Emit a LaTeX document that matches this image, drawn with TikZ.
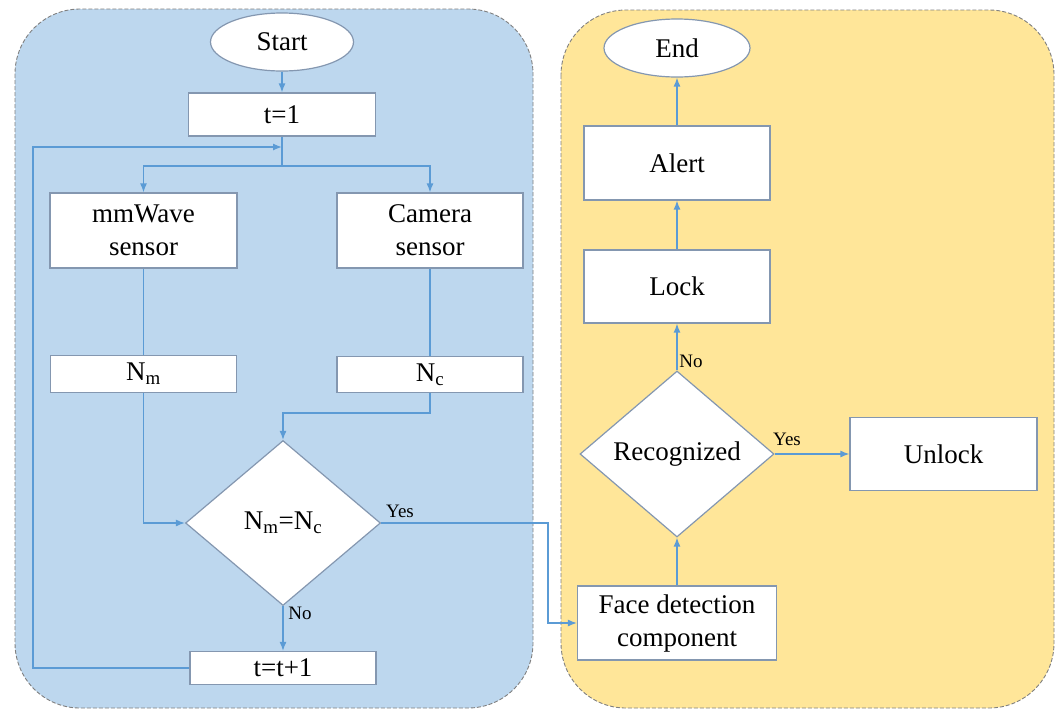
\documentclass[tikz,border=0pt]{standalone}
\usepackage{fontspec}
\setmainfont{Liberation Serif}
\newfontfamily\diagfont{Liberation Serif}
\usetikzlibrary{shapes.geometric,arrows.meta}
\definecolor{panelblue}{RGB}{189,215,238}
\definecolor{panelyellow}{RGB}{255,230,153}
\definecolor{arrowblue}{RGB}{91,155,213}
\definecolor{nodeborder}{RGB}{132,151,176}
\definecolor{panelborder}{RGB}{128,128,128}
\tikzset{
  panel/.style={draw=panelborder, line width=0.9pt, dash pattern=on 4pt off 2pt, rounded corners=65pt},
  bigtext/.style={font=\diagfont\fontsize{27}{33}\selectfont},
  stepbox/.style={draw=nodeborder, fill=white, line width=1.2pt, rectangle, inner sep=0pt, align=center, bigtext},
  term/.style={draw=nodeborder, fill=white, line width=1.2pt, ellipse, inner sep=0pt, bigtext},
  decide/.style={draw=nodeborder, fill=white, line width=1.2pt, diamond, inner sep=0pt, bigtext},
  conn/.style={draw=arrowblue, line width=1.3pt},
  arr/.style={conn, -{Latex[length=9pt,width=7pt]}},
  lbl/.style={font=\diagfont\fontsize{19}{22}\selectfont, inner sep=0pt}
}
\begin{document}
\begin{tikzpicture}[x=1pt,y=-1pt]
\useasboundingbox (0,0) rectangle (1059,710);
% panels
\path[panel, fill=panelblue] (15,9) rectangle (533,708);
\path[panel, fill=panelyellow] (561,10) rectangle (1054,708);

% left column nodes
\node[term, minimum width=143pt, minimum height=58pt] (start) at (282,42) {Start};
\node[stepbox, minimum width=187pt, minimum height=43pt] (t1) at (282,114.5) {t=1};
\node[stepbox, minimum width=187pt, minimum height=75pt] (mm) at (143.5,230.5) {mmWave\\sensor};
\node[stepbox, minimum width=186pt, minimum height=75pt] (cam) at (430,230.5) {Camera\\sensor};
\node[stepbox, minimum width=186pt, minimum height=37pt] (nm) at (143.5,374) {N\textsubscript{m}};
\node[stepbox, minimum width=186pt, minimum height=36pt] (nc) at (430,374.5) {N\textsubscript{c}};
\node[decide, minimum width=195pt, minimum height=165pt] (d1) at (283,523) {N\textsubscript{m}=N\textsubscript{c}};
\node[stepbox, minimum width=186pt, minimum height=33pt] (t2) at (283,668) {t=t+1};

% right column nodes
\node[term, minimum width=146pt, minimum height=58pt] (end) at (677,48) {End};
\node[stepbox, minimum width=186pt, minimum height=74pt] (alert) at (677,163) {Alert};
\node[stepbox, minimum width=186pt, minimum height=73pt] (lock) at (677,286.5) {Lock};
\node[decide, minimum width=194pt, minimum height=166pt] (d2) at (677,454) {Recognized};
\node[stepbox, minimum width=187pt, minimum height=73pt] (unlock) at (943.5,454) {Unlock};
\node[stepbox, minimum width=199pt, minimum height=74pt] (face) at (677,623) {Face detection\\component};

% helper coordinates
\coordinate (junc) at (282,147);
\coordinate (split) at (282,166);
\coordinate (loopx) at (33,0);
\coordinate (ncbend) at (0,413);
\coordinate (yesx) at (548,0);

% left connectors
\draw[arr] (start.south) -- (t1.north);
\draw[conn] (t1.south) -- (split);
\draw[arr] (split) -| (mm.north);
\draw[arr] (split) -| (cam.north);
\draw[conn] (mm.south) -- (nm.north);
\draw[conn] (cam.south) -- (nc.north);
\draw[arr] (nm.south) |- (d1.west);
\draw[arr] (nc.south) -- (nc.south |- ncbend) -| (d1.north);
\draw[arr] (d1.south) -- (t2.north);
\draw[arr] (t2.west) -- (t2.west -| loopx) -- (junc -| loopx) -- (junc);
\draw[arr] (d1.east) -- (d1.east -| yesx) |- (face.west);
\node[lbl] (yes1) at (400,511) {Yes};
\node[lbl] (no1) at (300,613) {No};

% right connectors
\draw[arr] (face.north) -- (d2.south);
\draw[arr] (d2.north) -- (lock.south);
\draw[arr] (lock.north) -- (alert.south);
\draw[arr] (alert.north) -- (end.south);
\draw[arr] (d2.east) -- (unlock.west);
\node[lbl] (yes2) at (787,439) {Yes};
\node[lbl] (no2) at (691,361) {No};
\end{tikzpicture}
\end{document}
